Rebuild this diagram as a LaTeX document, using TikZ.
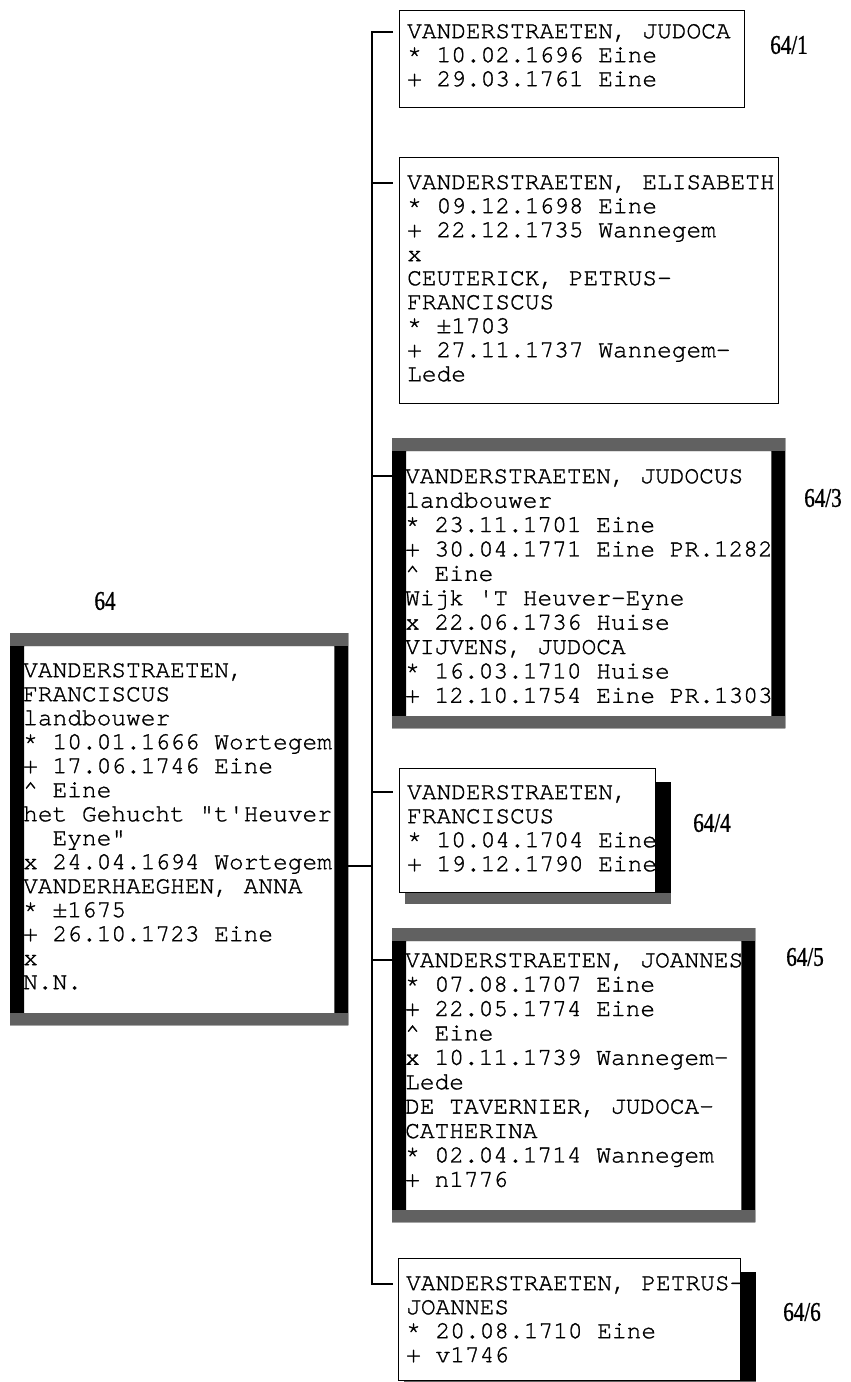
\documentclass[tikz,border=0pt]{standalone}
\usepackage{fontspec}
\setmonofont{TeX Gyre Cursor}[FakeBold=1.2]
\newfontfamily\nummerfont{Liberation Serif}[FakeStretch=0.78, FakeBold=1]
\usetikzlibrary{positioning}

\newcommand{\kop}{\rule{0pt}{22pt}}
% dikke rand: zwarte zijkanten, grijze boven- en onderkant
\newcommand{\dikkerand}[1]{%
  \fill[black, even odd rule] (#1.north west) rectangle (#1.south east)
    ([xshift=14pt,yshift=-13pt]#1.north west) rectangle ([xshift=-14pt,yshift=12pt]#1.south east);
  \fill[rand] (#1.north west) rectangle ([yshift=-13pt]#1.north east);
  \fill[rand] ([yshift=12pt]#1.south west) rectangle (#1.south east);
}
% schaduw rechts en onder
\newcommand{\schaduw}[1]{%
  \fill[black] ([yshift=-14pt]#1.north east) rectangle ([xshift=15pt,yshift=-11pt]#1.south east);
  \fill[rand] ([xshift=6pt]#1.south west) rectangle ([xshift=15pt,yshift=-11pt]#1.south east);
}

\tikzset{
  kader/.style={draw, line width=1.2pt, inner sep=0pt, anchor=north west},
  vlak/.style={inner sep=0pt, anchor=north west},
  gegevens/.style={anchor=north west, align=left, inner sep=0pt,
    font=\ttfamily\fontsize{24.5}{24}\selectfont},
  nummer/.style={font=\nummerfont\fontsize{27}{27}\selectfont},
  lijn/.style={line width=1.2pt},
  rand/.style={fill=black!62},
}

\begin{document}
\begin{tikzpicture}[x=1pt, y=-1pt]
    \useasboundingbox[fill=white] (0,0) rectangle (851,1382);

    % de kaders
    \node[vlak, minimum width=338pt, minimum height=392pt] (ouder) at (10,633) {};
    \node[kader, minimum width=345pt, minimum height=97pt] (k1) at (399,10) {};
    \node[kader, minimum width=379pt, minimum height=246pt] (k2) at (399,157) {};
    \node[vlak, minimum width=393pt, minimum height=290pt] (k3) at (392,438) {};
    \node[kader, minimum width=256pt, minimum height=124pt] (k4) at (399,768) {};
    \node[vlak, minimum width=363pt, minimum height=294pt] (k5) at (392,928) {};
    \node[kader, minimum width=342pt, minimum height=122pt] (k6) at (398,1258) {};

    % de teksten
    \node[gegevens] (tekst0) at (23,655) {\kop VANDERSTRAETEN,\\FRANCISCUS\\landbouwer\\
      * 10.01.1666 Wortegem\\+ 17.06.1746 Eine\\\textasciicircum{} Eine\\
      het Gehucht "t'Heuver\\\ \ Eyne"\\x 24.04.1694 Wortegem\\
      VANDERHAEGHEN, ANNA\\* ±1675\\+ 26.10.1723 Eine\\x\\N.N.};
    \node[gegevens] (tekst1) at (407,16) {\kop VANDERSTRAETEN, JUDOCA\\
      * 10.02.1696 Eine\\+ 29.03.1761 Eine};
    \node[gegevens] (tekst2) at (407,167) {\kop VANDERSTRAETEN, ELISABETH\\
      * 09.12.1698 Eine\\+ 22.12.1735 Wannegem\\x\\CEUTERICK, PETRUS-\\
      FRANCISCUS\\* ±1703\\+ 27.11.1737 Wannegem-\\Lede};
    \node[gegevens, font=\ttfamily\fontsize{24.5}{24.4}\selectfont] (tekst3) at (405,461) {\kop VANDERSTRAETEN, JUDOCUS\\landbouwer\\
      * 23.11.1701 Eine\\+ 30.04.1771 Eine PR.1282\\\textasciicircum{} Eine\\
      Wijk 'T Heuver-Eyne\\x 22.06.1736 Huise\\VIJVENS, JUDOCA\\
      * 16.03.1710 Huise\\+ 12.10.1754 Eine PR.1303};
    \node[gegevens] (tekst4) at (407,777) {\kop VANDERSTRAETEN,\\FRANCISCUS\\
      * 10.04.1704 Eine\\+ 19.12.1790 Eine};
    \node[gegevens, font=\ttfamily\fontsize{24.5}{24.4}\selectfont] (tekst5) at (405,945) {\kop VANDERSTRAETEN, JOANNES\\
      * 07.08.1707 Eine\\+ 22.05.1774 Eine\\\textasciicircum{} Eine\\
      x 10.11.1739 Wannegem-\\Lede\\DE TAVERNIER, JUDOCA-\\CATHERINA\\
      * 02.04.1714 Wannegem\\+ n1776};
    \node[gegevens] (tekst6) at (406,1268) {\kop VANDERSTRAETEN, PETRUS-\\JOANNES\\
      * 20.08.1710 Eine\\+ v1746};

    % randen over de tekst
    \dikkerand{ouder}
    \dikkerand{k3}
    \dikkerand{k5}
    \schaduw{k4}
    \schaduw{k6}

    % verbindingen
    \coordinate (stam) at (372,866);
    \coordinate (t1) at (393,32);
    \coordinate (t2) at (393,183);
    \coordinate (t3) at (392,476);
    \coordinate (t4) at (393,792);
    \coordinate (t5) at (392,960);
    \coordinate (t6) at (393,1284);
    \draw[lijn] (ouder.east |- stam) -- (stam);
    \draw[lijn] (t1) -| (stam) |- (t6);
    \foreach \i in {2,...,5}
        \draw[lijn] (stam |- t\i) -- (t\i);

    % nummers
    \node[nummer] (n0) at (105,601) {64};
    \node[nummer] (n1) at (789,45) {64/1};
    \node[nummer] (n3) at (823,498) {64/3};
    \node[nummer] (n4) at (712,823) {64/4};
    \node[nummer] (n5) at (805,957) {64/5};
    \node[nummer] (n6) at (802,1312) {64/6};
\end{tikzpicture}
\end{document}
